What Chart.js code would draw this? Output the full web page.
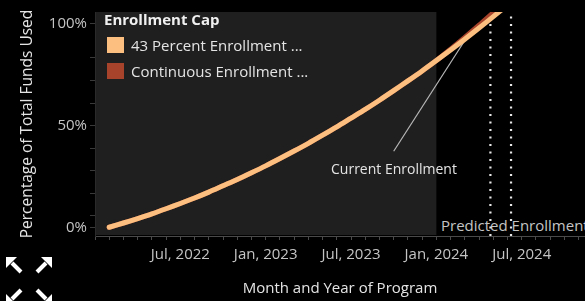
<!DOCTYPE html>
<html>
<head>
<meta charset="utf-8">
<script src="https://cdn.jsdelivr.net/npm/chart.js@4.4.1/dist/chart.umd.min.js"></script>
<style>
  html, body { margin: 0; padding: 0; background: #000; }
  #wrap { position: relative; width: 585px; height: 301px; overflow: hidden; font-family: "Open Sans", sans-serif; }
  #chart { position: absolute; left: 0; top: 0; z-index: 1; }
  .txt { position: absolute; white-space: nowrap; font-size: 15px; line-height: 18px; }
  .under { z-index: 0; color: #c4c4c4; }
  .over { z-index: 2; color: #e4e4e4; }
  .swatch { position: absolute; z-index: 2; width: 17px; height: 16px; }
</style>
</head>
<body>
<div id="wrap">
  <div class="txt under" style="left:441px; top:216px;">Predicted Enrollment</div>
  <canvas id="chart" width="585" height="301"></canvas>
  <div class="txt over" style="left:104px; top:10px; font-weight:bold; color:#f0f0f0;">Enrollment Cap</div>
  <div class="swatch" style="left:107px; top:37px; background:#fcbf7f;"></div>
  <div class="txt over" style="left:131px; top:36px;">43 Percent Enrollment ...</div>
  <div class="swatch" style="left:107px; top:63px; background:#a8432b;"></div>
  <div class="txt over" style="left:131px; top:62px;">Continuous Enrollment ...</div>
  <div class="txt over" style="left:331px; top:160px; font-size:14px;">Current Enrollment</div>
</div>
<script>
// Months counted from Jan 2022 (0 = Jan, 2022)
const months = [1, 2, 3, 4, 5, 6, 7, 8, 9, 10, 11, 12, 13, 14, 15, 16, 17, 18, 19, 20, 21, 22, 23, 24, 25, 26, 27, 28, 29];

// Percentage of total funds used
const cap43 = [0, 2.1, 4.3, 6.6, 9.1, 11.7, 14.4, 17.3, 20.4, 23.5, 26.8, 30.2, 33.8, 37.5, 41.3,
               45.3, 49.4, 53.7, 58.0, 62.5, 67.2, 72.0, 76.9, 82.0, 87.2, 92.5, 98.0, 103.6, 109.3];
const continuous = [0, 2.1, 4.3, 6.6, 9.1, 11.7, 14.4, 17.3, 20.4, 23.5, 26.8, 30.2, 33.8, 37.5, 41.3,
                    45.3, 49.4, 53.7, 58.0, 62.5, 67.2, 72.0, 76.9, 82.0, 87.6, 93.4, 99.4, 105.6, 111.8];

// Dotted "predicted enrollment" markers (month index)
const predictedMonths = [27.8, 29.25];

// Shaded "current" period
const currentStart = 0;
const currentEnd = 24;

// Annotation: from label to the point on the curve [month, percent]
const annotationFrom = [21.0, 37.4];
const annotationTo = [26.1, 93.0];

// Axis ticks
const tickMonths = [6, 12, 18, 24, 30];
const tickLabels = ['Jul, 2022', 'Jan, 2023', 'Jul, 2023', 'Jan, 2024', 'Jul, 2024'];
const yTickValues = [0, 5.6, 16.7, 27.8, 38.9, 50, 61.1, 72.2, 83.3, 100];
const yLabelled = [0, 50, 100];

const Y_MIN = -4.3;
const Y_MAX = 105.9;
const FONT = '"Open Sans", sans-serif';

// Background shading, annotation line and the corner icons
const decor = {
    id: 'decor',
    beforeDraw(chart) {
        const { ctx, chartArea, scales: { x } } = chart;
        const x0 = x.getPixelForValue(currentStart);
        const x1 = x.getPixelForValue(currentEnd);
        ctx.save();
        ctx.fillStyle = '#1f1f1f';
        ctx.fillRect(x0, chartArea.top, x1 - x0, chartArea.bottom - chartArea.top - 1);
        ctx.restore();
    },
    beforeDatasetsDraw(chart) {
        const { ctx, scales: { x, y } } = chart;
        ctx.save();
        ctx.strokeStyle = '#b8b8b8';
        ctx.lineWidth = 1.2;
        ctx.beginPath();
        ctx.moveTo(x.getPixelForValue(annotationFrom[0]), y.getPixelForValue(annotationFrom[1]));
        ctx.lineTo(x.getPixelForValue(annotationTo[0]), y.getPixelForValue(annotationTo[1]));
        ctx.stroke();
        ctx.restore();
    },
    afterDraw(chart) {
        const ctx = chart.ctx;
        ctx.save();
        ctx.fillStyle = '#ffffff';
        ctx.strokeStyle = '#ffffff';
        ctx.lineWidth = 4;
        // expand / collapse icons (toolbar chrome)
        const icons = [[14, 265, -1, -1], [44, 265, 1, -1], [14, 297, -1, 1], [44, 297, 1, 1]];
        icons.forEach(([cx, cy, dx, dy]) => {
            const tipX = cx + dx * 8, tipY = cy + dy * 8;
            ctx.beginPath();
            ctx.moveTo(cx - dx * 7, cy - dy * 7);
            ctx.lineTo(cx + dx * 2, cy + dy * 2);
            ctx.stroke();
            ctx.beginPath();
            ctx.moveTo(tipX, tipY);
            ctx.lineTo(tipX - dx * 11, tipY);
            ctx.lineTo(tipX, tipY - dy * 11);
            ctx.closePath();
            ctx.fill();
        });
        ctx.restore();
    }
};

function series(values) {
    return months.map((m, i) => ({ x: m, y: values[i] }));
}

const datasets = [
    {
        label: '43 Percent Enrollment Cap',
        data: series(cap43),
        borderColor: '#fcbf7f',
        borderWidth: 5,
        borderCapStyle: 'round',
        pointRadius: 0,
        tension: 0.3
    },
    {
        label: 'Continuous Enrollment',
        data: series(continuous),
        borderColor: '#a8432b',
        borderWidth: 5,
        borderCapStyle: 'round',
        pointRadius: 0,
        tension: 0.3
    }
];

predictedMonths.forEach(m => {
    datasets.push({
        label: 'Predicted Enrollment',
        data: [{ x: m, y: Y_MIN }, { x: m, y: Y_MAX }],
        borderColor: '#e8e8e8',
        borderWidth: 2.2,
        borderDash: [2, 5.5],
        pointRadius: 0
    });
});

new Chart(document.getElementById('chart'), {
    type: 'line',
    data: { datasets: datasets },
    options: {
        responsive: false,
        animation: false,
        devicePixelRatio: 1,
        layout: { padding: { top: 3 } },
        plugins: {
            legend: { display: false },
            tooltip: { enabled: false }
        },
        scales: {
            x: {
                type: 'linear',
                min: 0,
                max: 34.45,
                afterBuildTicks: s => { s.ticks = Array.from({ length: 35 }, (_, i) => ({ value: i })); },
                afterFit: s => { s.height = 65; },
                ticks: {
                    autoSkip: false,
                    maxRotation: 0,
                    color: '#c4c4c4',
                    font: { family: FONT, size: 15 },
                    padding: 6,
                    callback: v => {
                        const i = tickMonths.indexOf(v);
                        return i >= 0 ? tickLabels[i] : '';
                    }
                },
                grid: { drawOnChartArea: false, tickLength: 4, color: '#4a4a4a' },
                border: { color: '#4a4a4a' },
                title: {
                    display: true,
                    text: 'Month and Year of Program',
                    color: '#e4e4e4',
                    font: { family: FONT, size: 15 },
                    padding: { bottom: 3 }
                }
            },
            y: {
                min: Y_MIN,
                max: Y_MAX,
                afterBuildTicks: s => { s.ticks = yTickValues.map(v => ({ value: v })); },
                afterFit: s => { s.width = 95; },
                ticks: {
                    autoSkip: false,
                    color: '#c4c4c4',
                    font: { family: FONT, size: 15 },
                    padding: 3,
                    callback: v => yLabelled.includes(v) ? v + '%' : ''
                },
                grid: { drawOnChartArea: false, tickLength: 5, color: '#3a3a3a' },
                border: { color: '#2a2a2a' },
                title: {
                    display: true,
                    text: 'Percentage of Total Funds Used',
                    color: '#e4e4e4',
                    font: { family: FONT, size: 15.5 },
                    padding: { top: 18 }
                }
            }
        }
    },
    plugins: [decor]
});
</script>
</body>
</html>
